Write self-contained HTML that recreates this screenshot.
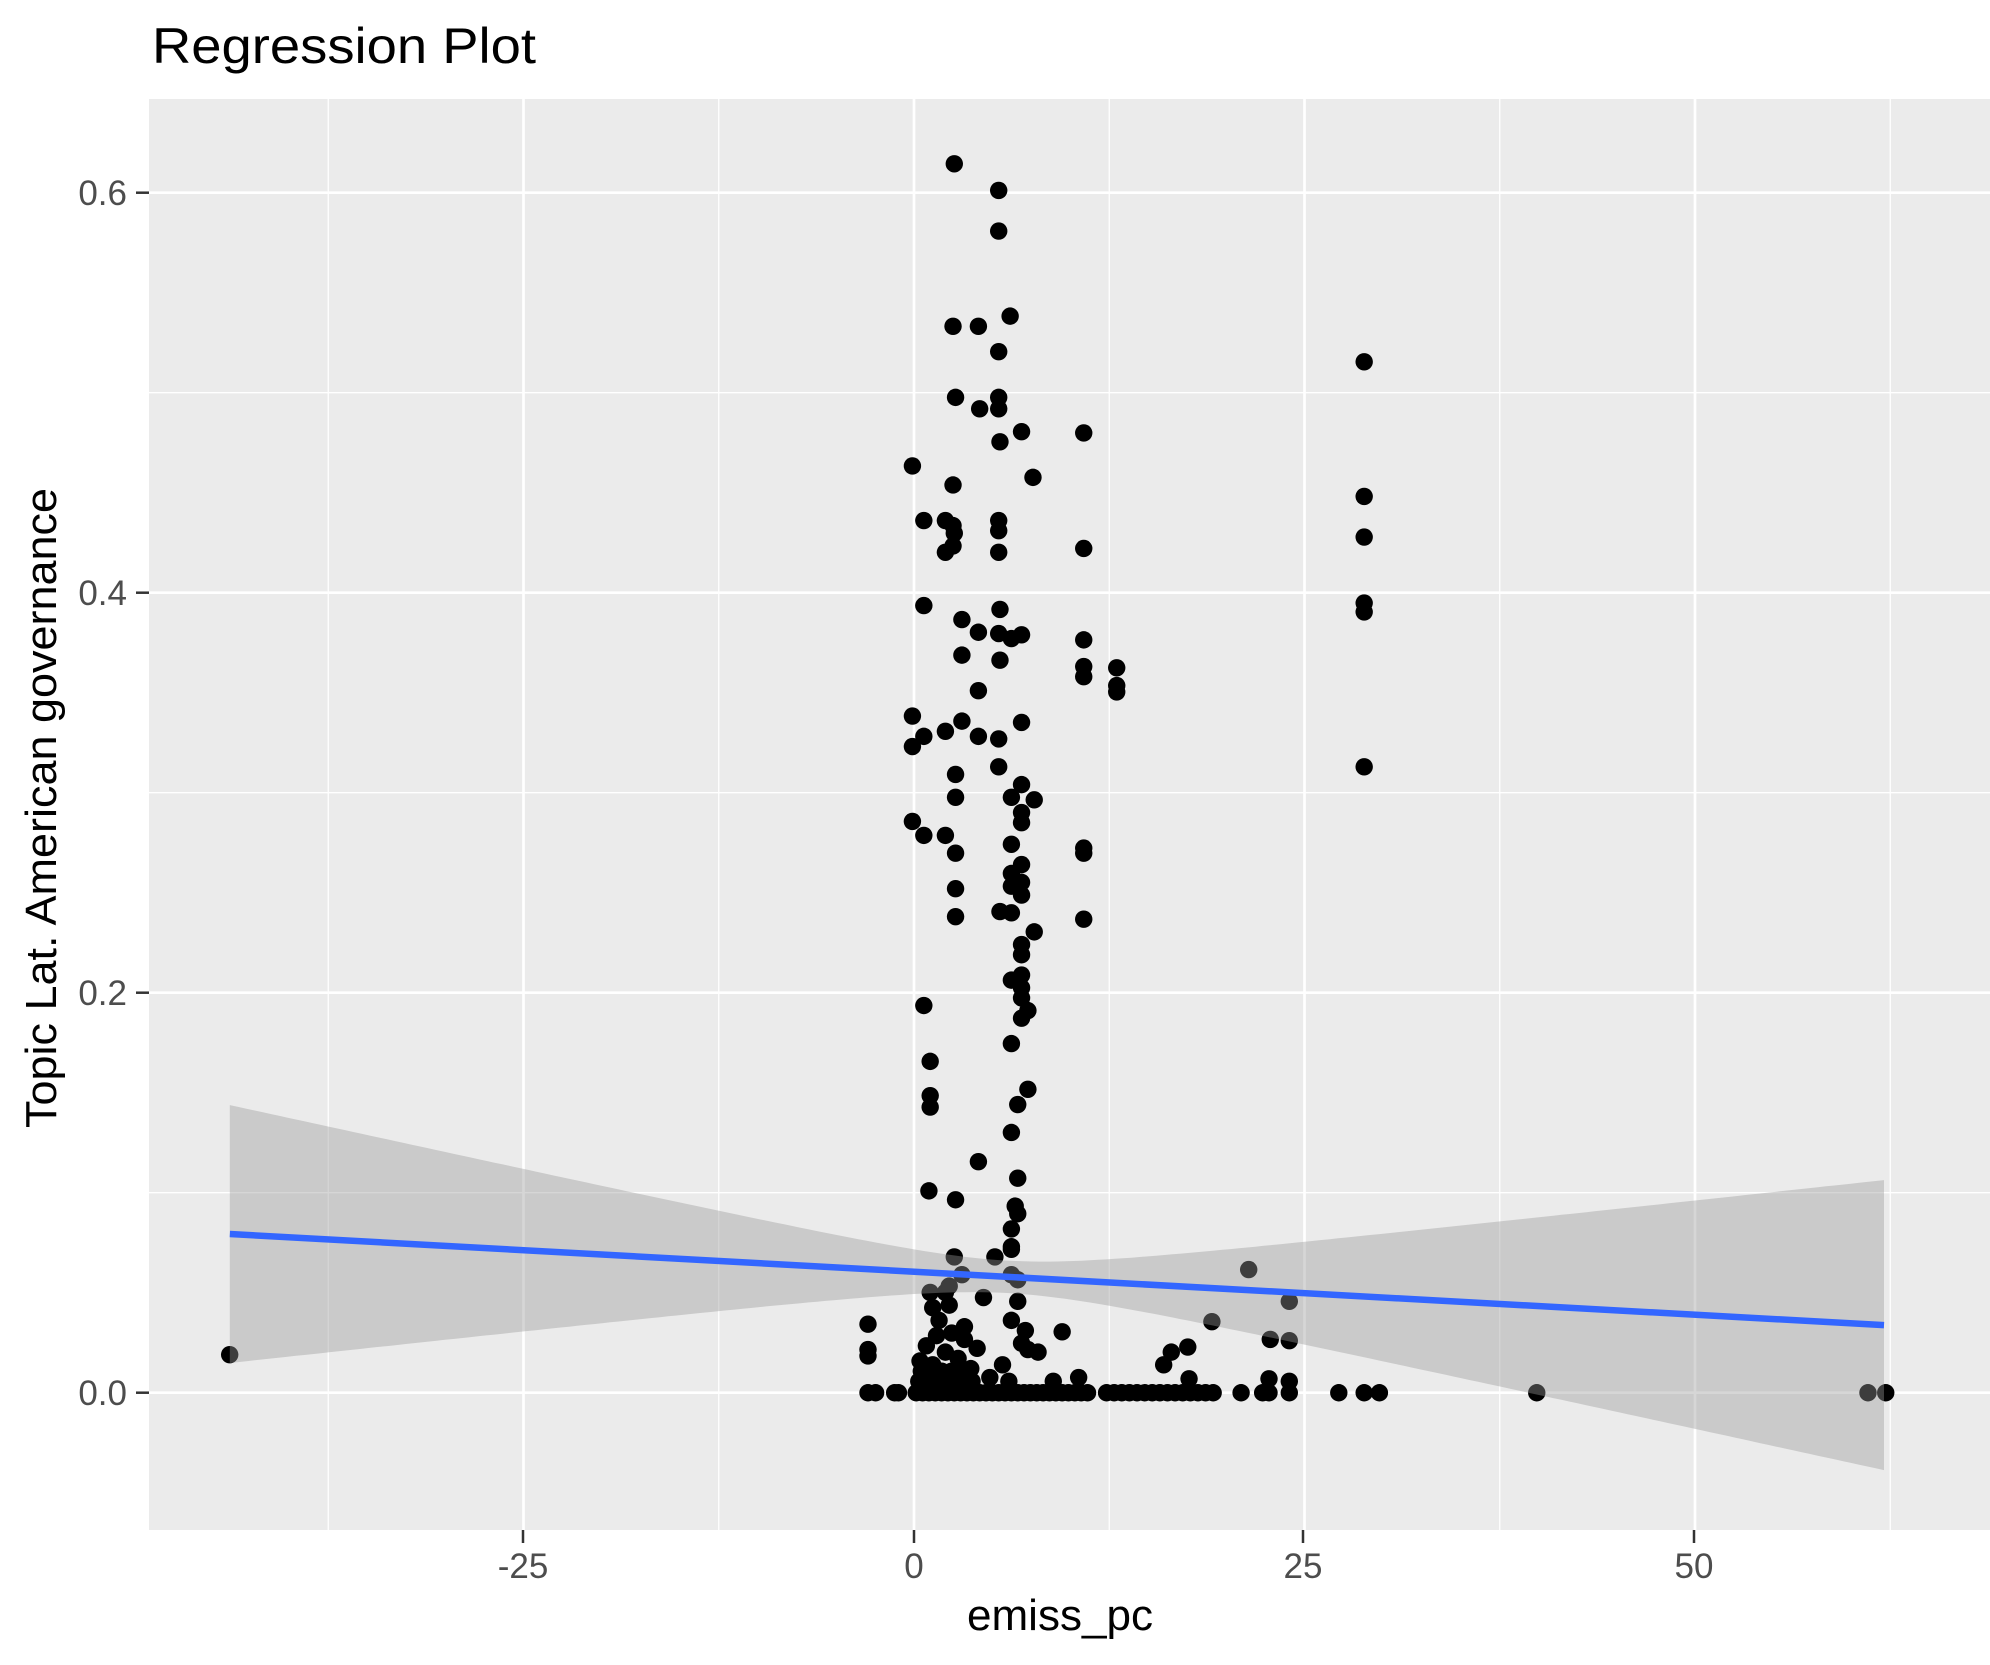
<!DOCTYPE html>
<html><head><meta charset="utf-8"><style>body{margin:0;background:#fff}svg{display:block}</style></head>
<body>
<svg id="s" width="1990" height="1665" xmlns="http://www.w3.org/2000/svg" font-family="Liberation Sans, sans-serif">
<rect width="1990" height="1665" fill="#fff"/>
<rect x="149" y="99" width="1841" height="1431" fill="#ebebeb"/>
<g id="grid"></g>
<g id="pts"></g>
<g id="smooth"></g>
<text x="152" y="63" font-size="50" fill="#000" textLength="384" lengthAdjust="spacingAndGlyphs">Regression Plot</text>
<g font-size="35" fill="#4d4d4d" text-anchor="end">
<text x="127" y="1405">0.0</text><text x="127" y="1005">0.2</text><text x="127" y="605">0.4</text><text x="127" y="205">0.6</text>
</g>
<g font-size="35" fill="#4d4d4d" text-anchor="middle">
<text x="523" y="1578">-25</text><text x="914" y="1578">0</text><text x="1303" y="1578">25</text><text x="1694" y="1578">50</text>
</g>
<g stroke="#333" stroke-width="2.5">
<line x1="136" x2="149" y1="1392.7" y2="1392.7"/><line x1="136" x2="149" y1="992.7" y2="992.7"/><line x1="136" x2="149" y1="592.7" y2="592.7"/><line x1="136" x2="149" y1="192.7" y2="192.7"/>
<line y1="1530" y2="1543" x1="523" x2="523"/><line y1="1530" y2="1543" x1="914" x2="914"/><line y1="1530" y2="1543" x1="1303" x2="1303"/><line y1="1530" y2="1543" x1="1694" x2="1694"/>
</g>
<text x="1060" y="1630" font-size="44" text-anchor="middle" fill="#000" textLength="186" lengthAdjust="spacingAndGlyphs">emiss_pc</text>
<text transform="translate(56,808) rotate(-90)" font-size="44" text-anchor="middle" fill="#000" textLength="640" lengthAdjust="spacingAndGlyphs">Topic Lat. American governance</text>
</svg>
<script>
var NS="http://www.w3.org/2000/svg";
function el(p,t,a){var e=document.createElementNS(NS,t);for(var k in a)e.setAttribute(k,a[k]);p.appendChild(e);return e;}
var X=function(x){return 914+x*15.62}, Y=function(y){return 1392.7-y*2000};
var g=document.getElementById('grid');
[-37.5,-12.5,12.5,37.5,62.5].forEach(function(v){el(g,'line',{x1:X(v),x2:X(v),y1:99,y2:1530,stroke:'#fff','stroke-width':1.3});});
[0.1,0.3,0.5].forEach(function(v){el(g,'line',{x1:149,x2:1990,y1:Y(v),y2:Y(v),stroke:'#fff','stroke-width':1.3});});
[-25,0,25,50].forEach(function(v){el(g,'line',{x1:X(v),x2:X(v),y1:99,y2:1530,stroke:'#fff','stroke-width':2.7});});
[0,0.2,0.4,0.6].forEach(function(v){el(g,'line',{x1:149,x2:1990,y1:Y(v),y2:Y(v),stroke:'#fff','stroke-width':2.7});});
var P=[[181,1067],[752,129],[787,150],[787,182],[796,249],[751,257],[771,257],[787,277],[753,313],[787,313],[772,322],[787,322],[805,340],[854,341],[788,348],[719,367],[814,376],[751,382],[1075,285],[1075,391],[1075,423],[1075,475],[1075,482],[1075,604],[728,410],[745,410],[751,414],[752,420],[751,430],[787,410],[787,418],[745,435],[787,435],[854,432],[728,477],[788,480],[758,488],[771,498],[787,499],[797,503],[805,500],[854,504],[758,516],[788,520],[854,525],[854,533],[880,526],[880,540],[880,545],[771,544],[719,564],[758,568],[728,580],[745,576],[771,580],[805,569],[787,582],[719,588],[753,610],[787,604],[805,618],[753,628],[797,628],[815,630],[805,640],[805,648],[719,647],[728,658],[745,658],[753,672],[797,665],[854,668],[854,672],[805,681],[797,688],[805,695],[797,698],[753,700],[805,705],[788,718],[797,719],[753,722],[854,724],[815,734],[805,744],[805,752],[797,772],[805,768],[805,778],[805,786],[810,796],[805,802],[728,792],[797,822],[733,836],[733,863],[733,872],[810,858],[802,870],[797,892],[771,915],[802,928],[732,938],[753,945],[800,950],[802,956],[797,968],[797,982],[752,990],[797,984],[784,990],[758,1004],[797,1004],[748,1013],[802,1008],[733,1018],[745,1018],[775,1022],[802,1025],[984,1000],[955,1041],[1016,1025],[1001,1055],[1016,1056],[684,1043],[684,1063],[684,1068],[837,1049],[808,1048],[797,1040],[805,1058],[818,1065],[810,1063],[923,1065],[936,1061],[917,1075],[937,1086],[1000,1086],[1016,1088],[735,1030],[740,1040],[750,1050],[760,1055],[730,1060],[745,1065],[755,1070],[735,1075],[765,1078],[740,1085],[780,1085],[795,1088],[830,1088],[850,1085],[760,1045],[748,1028],[738,1052],[725,1072],[770,1062],[790,1075]];
var bx=[684,690,705,708,1055,1075,1087,1211,1472,1486,978,995,1000,1016];
for(var x=722;x<=860;x+=5)bx.push(x);
for(var x=872;x<=960;x+=6)bx.push(x);
bx.forEach(function(x){P.push([x,1097]);});
for(var x=724;x<=770;x+=6)P.push([x,1088]);
for(var x=726;x<=760;x+=8)P.push([x,1080]);
var pg=document.getElementById('pts');
P.forEach(function(p){el(pg,'circle',{cx:p[0]*1.269,cy:p[1]*1.2696,r:8.7,fill:'#000'});});
var sg=document.getElementById('smooth');
function f(x){return 0.0605-0.00043*x}
function se(x){return Math.sqrt(0.0081*0.0081+1.65e-6*(x-6)*(x-6))}
var up=[],lo=[],x0=-43.8,x1=62.1;
for(var i=0;i<=200;i++){var x=x0+(x1-x0)*i/200;up.push(X(x).toFixed(1)+','+Y(f(x)+se(x)).toFixed(1));lo.unshift(X(x).toFixed(1)+','+Y(f(x)-se(x)).toFixed(1));}
el(sg,'polygon',{points:up.concat(lo).join(' '),fill:'#999999','fill-opacity':0.4});
el(sg,'line',{x1:X(x0),y1:Y(f(x0)),x2:X(x1),y2:Y(f(x1)),stroke:'#3366ff','stroke-width':6.5});
</script>
</body></html>
